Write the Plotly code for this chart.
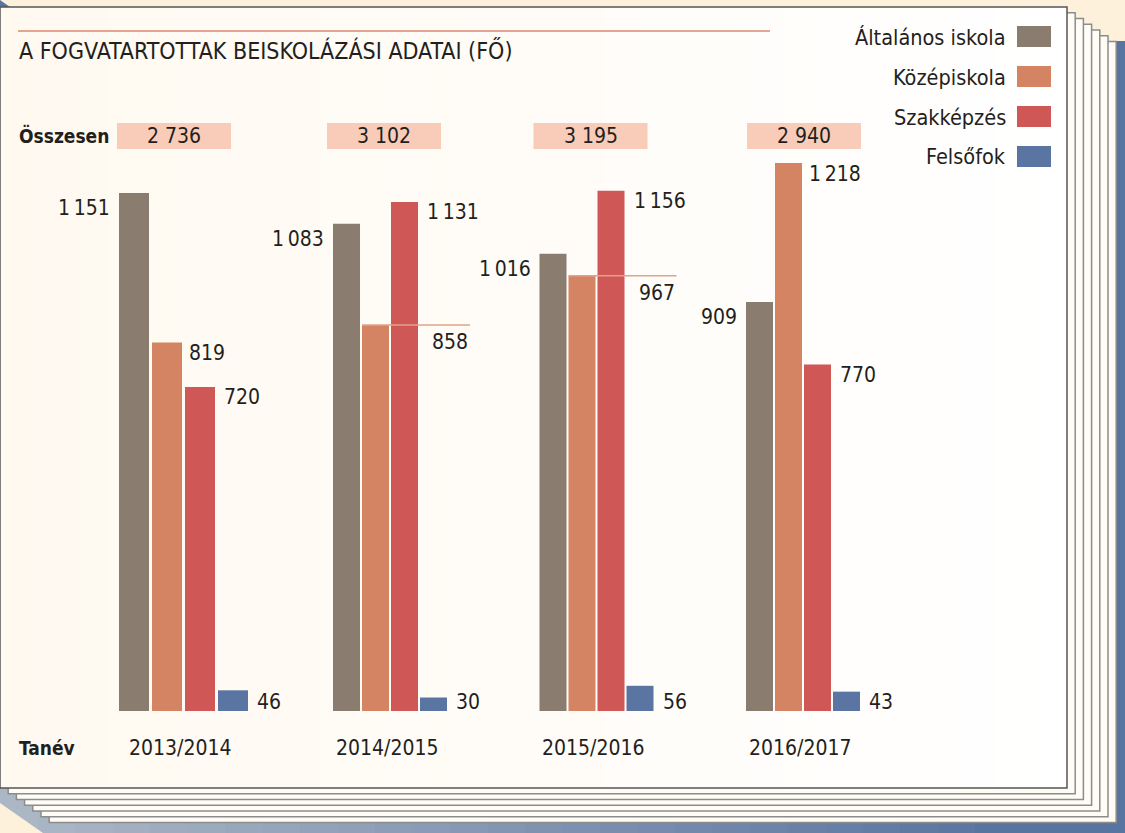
import plotly.graph_objects as go

# ---------------- data ----------------
years = ["2013/2014", "2014/2015", "2015/2016", "2016/2017"]
series_names = ["Általános iskola", "Középiskola", "Szakképzés", "Felsőfok"]
altalanos = [1151, 1083, 1016, 909]
kozepiskola = [819, 858, 967, 1218]
szakkepzes = [720, 1131, 1156, 770]
felsofok = [46, 30, 56, 43]
totals = [2736, 3102, 3195, 2940]
title_text = "A FOGVATARTOTTAK BEISKOLÁZÁSI ADATAI (FŐ)"
total_label = "Összesen"
axis_label = "Tanév"

series_values = [altalanos, kozepiskola, szakkepzes, felsofok]
series_colors = ["#8A7D70", "#D48463", "#CF5756", "#5A75A1"]

# ---------------- geometry ----------------
W, H = 1125, 833
X0PX, XSTEP = 183.5, 206.5          # pixel of first category centre, px per category
BASE, PXU = 711, 0.45               # baseline pixel, px per unit

FONT = "Liberation Sans Narrow, DejaVu Sans Condensed, Arial Narrow, Roboto Condensed, sans-serif"
TXT = "#231F20"


def fx(p):
    return p / W


def fy(p):
    return 1 - p / H


def fmt(v, sep=" "):
    return f"{v:,}".replace(",", sep)


# bar widths/offsets in px relative to group centre
bar_w_px = [30, 27, 27, 27]
bar_off_px = [[-64.5, -31.5, 1.5, 34.5]] + [[-57, -28, 1, 30]] * 3

fig = go.Figure()
xs = list(range(len(years)))
for s, (name, vals, col) in enumerate(zip(series_names, series_values, series_colors)):
    fig.add_trace(go.Bar(
        x=xs, y=vals, name=name,
        width=[bar_w_px[g] / XSTEP for g in xs],
        offset=[bar_off_px[g][s] / XSTEP for g in xs],
        marker=dict(color=col, line=dict(width=0)),
        showlegend=False, hoverinfo="skip",
    ))

shapes = []
annotations = []


def rect_px(x0, y0, x1, y1, fill, line=None, lw=0, layer="below"):
    shapes.append(dict(type="rect", xref="paper", yref="paper",
                       x0=fx(x0), x1=fx(x1), y0=fy(y1), y1=fy(y0),
                       fillcolor=fill, line=dict(color=line or fill, width=lw),
                       layer=layer))


def path_px(pts, fill):
    d = "M " + " L ".join(f"{fx(x):.5f},{fy(y):.5f}" for x, y in pts) + " Z"
    shapes.append(dict(type="path", xref="paper", yref="paper", path=d,
                       fillcolor=fill, line=dict(width=0), layer="below"))


def lerp(c1, c2, t):
    return "#%02X%02X%02X" % tuple(round(a + (b - a) * t) for a, b in zip(c1, c2))


# blue "shadow" region behind the stack
path_px([(0, 0), (10, 7), (1060, 7), (1060, 41), (1125, 41), (1125, 833),
         (43, 833), (0, 803)], "#5874A0")
# bottom gradient band
n = 30
for k in range(n):
    x0 = 1125 * k / n
    x1 = 1125 * (k + 1) / n + 1
    t = min(1.0, (x0 + x1) / 2 / 1000)
    rect_px(x0, 786, x1, 833, lerp((174, 184, 198), (88, 116, 160), t))
# cream triangle bottom-left
path_px([(0, 803), (0, 833), (43, 833)], "#FDF1DC")

# stack of pages behind the card
DX, DY = 8.2, 5.75
CX0, CY0, CX1, CY1 = 0, 7, 1067, 788
for k in range(6, 0, -1):
    rect_px(CX0 + DX * k, CY0 + DY * k, CX1 + DX * k, CY1 + DY * k,
            "#FFFCF6", "#8C8C8C", 1.5)

# main card with a subtle horizontal gradient
n = 30
for k in range(n):
    x0 = CX0 + (CX1 - CX0) * k / n
    x1 = CX0 + (CX1 - CX0) * (k + 1) / n + 1
    t = (k + 0.5) / n
    rect_px(x0, CY0, min(x1, CX1), CY1, lerp((255, 249, 240), (255, 255, 255), t))
shapes.append(dict(type="rect", xref="paper", yref="paper",
                   x0=fx(CX0), x1=fx(CX1), y0=fy(CY1), y1=fy(CY0),
                   line=dict(color="#555555", width=1.5), layer="below"))

# title rule + title
shapes.append(dict(type="line", xref="paper", yref="paper",
                   x0=fx(18), x1=fx(770), y0=fy(31), y1=fy(31),
                   line=dict(color="#D98A6C", width=1.5), layer="below"))
annotations.append(dict(xref="paper", yref="paper", x=fx(17), y=fy(50),
                        xanchor="left", yanchor="middle", showarrow=False,
                        text=title_text, font=dict(family=FONT, size=23, color=TXT)))

# legend (text left of swatch)
for j, (name, col) in enumerate(zip(series_names, series_colors)):
    rect_px(1017, 26 + 40 * j, 1051, 47 + 40 * j, col, layer="above")
    annotations.append(dict(xref="paper", yref="paper", x=fx(1008), y=fy(37 + 40 * j),
                            xanchor="right", yanchor="middle", showarrow=False,
                            text=name, font=dict(family=FONT, size=21.5, color=TXT)))

# totals row
annotations.append(dict(xref="paper", yref="paper", x=fx(17), y=fy(136),
                        xanchor="left", yanchor="middle", showarrow=False,
                        text=f"<b>{total_label}</b>", font=dict(family=FONT, size=19, color=TXT)))
box_shift_px = [-2, -6, -6, 1]
for g, tot in enumerate(totals):
    bx0 = g + (bar_off_px[g][0] + box_shift_px[g]) / XSTEP
    bx1 = bx0 + 114 / XSTEP
    shapes.append(dict(type="rect", xref="x", yref="paper", x0=bx0, x1=bx1,
                       y0=fy(149), y1=fy(123), fillcolor="#F8CCB8",
                       line=dict(width=0), layer="below"))
    annotations.append(dict(xref="x", yref="paper", x=(bx0 + bx1) / 2, y=fy(136),
                            xanchor="center", yanchor="middle", showarrow=False,
                            text=fmt(tot), font=dict(family=FONT, size=21, color=TXT)))

# category labels
annotations.append(dict(xref="paper", yref="paper", x=fx(17), y=fy(748),
                        xanchor="left", yanchor="middle", showarrow=False,
                        text=f"<b>{axis_label}</b>", font=dict(family=FONT, size=19, color=TXT)))
for g, yr in enumerate(years):
    annotations.append(dict(xref="x", yref="paper", x=g, xshift=-3, y=fy(748),
                            xanchor="center", yanchor="middle", showarrow=False,
                            text=yr, font=dict(family=FONT, size=21, color=TXT)))

# value labels
lab_font = dict(family=FONT, size=21, color=TXT)
SEP = "\u2009"
for g in xs:
    w = bar_w_px[g] / XSTEP
    offs = [o / XSTEP for o in bar_off_px[g]]
    a, k, s, f = altalanos[g], kozepiskola[g], szakkepzes[g], felsofok[g]
    # general school: left of bar
    annotations.append(dict(xref="x", yref="y", x=g + offs[0], y=a, xshift=-7, yshift=-15,
                            xanchor="right", yanchor="middle", showarrow=False,
                            text=fmt(a, SEP), font=lab_font))
    # secondary school
    if k >= s:
        annotations.append(dict(xref="x", yref="y", x=g + offs[1] + w, y=k, xshift=5, yshift=-11,
                                xanchor="left", yanchor="middle", showarrow=False,
                                text=fmt(k, SEP), font=lab_font))
    else:
        xend = g + offs[2] + w + 52 / XSTEP
        shapes.append(dict(type="line", xref="x", yref="y", x0=g + offs[1], x1=xend,
                           y0=k, y1=k, line=dict(color="#E0A487", width=1.5), layer="above"))
        annotations.append(dict(xref="x", yref="y", x=xend, y=k, yshift=-17,
                                xanchor="right", yanchor="middle", showarrow=False,
                                text=fmt(k, SEP), font=lab_font))
    # vocational
    annotations.append(dict(xref="x", yref="y", x=g + offs[2] + w, y=s, xshift=7, yshift=-10,
                            xanchor="left", yanchor="middle", showarrow=False,
                            text=fmt(s, SEP), font=lab_font))
    # higher education
    annotations.append(dict(xref="x", yref="y", x=g + offs[3] + w, y=0, xshift=7, yshift=9,
                            xanchor="left", yanchor="middle", showarrow=False,
                            text=fmt(f, SEP), font=lab_font))

fig.update_layout(
    width=W, height=H,
    margin=dict(l=0, r=0, t=0, b=0, pad=0),
    paper_bgcolor="#FDF1DC", plot_bgcolor="rgba(0,0,0,0)",
    barmode="overlay",
    xaxis=dict(range=[-X0PX / XSTEP, (W - X0PX) / XSTEP], visible=False, fixedrange=True),
    yaxis=dict(range=[-(H - BASE) / PXU, BASE / PXU], visible=False, fixedrange=True),
    shapes=shapes, annotations=annotations, showlegend=False,
)

fig.write_html("out.html", config={"displayModeBar": False},
               post_script="document.body.style.margin='0';")
